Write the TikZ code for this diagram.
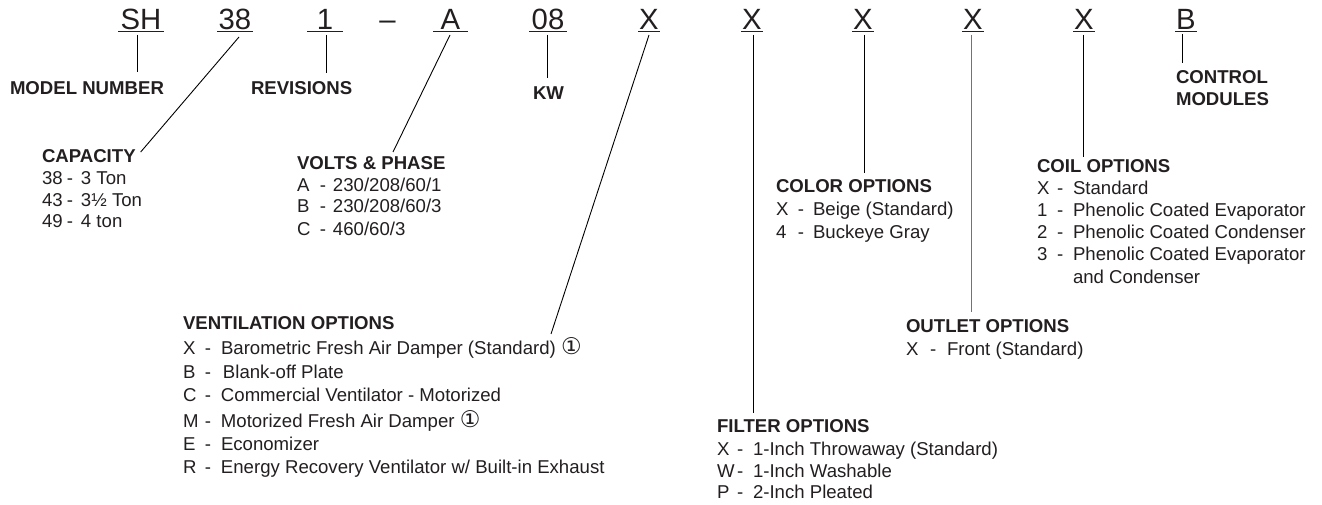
\documentclass[tikz,border=0pt]{standalone}
\usepackage{fontspec}
\setmainfont{Liberation Sans}
\newfontfamily\symfont{DejaVu Sans}
\usetikzlibrary{calc}
\definecolor{ink}{HTML}{231F20}
\newcommand{\optrow}[4]{\makebox[#1][l]{#3}\makebox[#2][l]{-}#4}
\newcommand{\circone}{{\symfont\fontsize{23}{20}\selectfont ①}}
\begin{document}
\begin{tikzpicture}[x=1pt,y=-1pt,
  every node/.style={inner sep=0pt, outer sep=0pt, text=ink},
  code/.style={anchor=base, font=\fontsize{29.3}{32}\selectfont},
  hd/.style={anchor=base west, font=\fontsize{18.6}{21.7}\selectfont\bfseries},
  itm/.style={anchor=base west, font=\fontsize{18.6}{21.7}\selectfont},
  lead/.style={draw=black, line width=0.9pt},
  leadgray/.style={draw=black!55, line width=1pt},
  uline/.style={draw=ink, line width=1pt}]
\useasboundingbox (0,0) rectangle (1322,505);
\fill[white] (0,0) rectangle (1322,505);

% ---- model code ----
\node[code] (cSH) at (141,30) {SH};
\node[code] (c38) at (235,30) {38};
\node[code] (c1) at (325,30) {1};
\node[code] (cdash) at (387.5,30) {–};
\node[code] (cA) at (450.5,30) {A};
\node[code] (c08) at (548,30) {08};
\node[code] (cX1) at (649,30) {X};
\node[code] (cX2) at (752,30) {X};
\node[code] (cX3) at (863,30) {X};
\node[code] (cX4) at (973,30) {X};
\node[code] (cX5) at (1084,30) {X};
\node[code] (cB) at (1186,30) {B};

\foreach \n/\w in {cSH/23, c38/18, c1/18, cA/17.5, c08/19, cX1/11, cX2/11, cX3/11, cX4/11, cX5/11, cB/11}
  \draw[uline] ($(\n.base)+(-\w,2)$) -- ($(\n.base)+(\w,2)$);

% ---- simple labels ----
\node[hd] (lmodel) at (10,95) {MODEL NUMBER};
\node[hd] (lrev) at (251,95) {REVISIONS};
\node[hd] (lkw) at (533,100) {KW};
\node[hd] (lctrl) at (1176,84) {CONTROL};
\node[hd] (lctrl2) at (1176,106) {MODULES};

% ---- capacity ----
\node[hd] (hcap) at (42,163) {CAPACITY};
\node[itm] (cap1) at (42,185) {\optrow{25pt}{14pt}{38}{3 Ton}};
\node[itm] (cap2) at (42,207) {\optrow{25pt}{14pt}{43}{3½ Ton}};
\node[itm] (cap3) at (42,228) {\optrow{25pt}{14pt}{49}{4 ton}};

% ---- volts & phase ----
\node[hd] (hvolt) at (297,170) {VOLTS \& PHASE};
\node[itm] (volt1) at (297,192) {\optrow{23pt}{13pt}{A}{230/208/60/1}};
\node[itm] (volt2) at (297,213) {\optrow{23pt}{13pt}{B}{230/208/60/3}};
\node[itm] (volt3) at (297,235) {\optrow{23pt}{13pt}{C}{460/60/3}};

% ---- color ----
\node[hd] (hcol) at (776,193) {COLOR OPTIONS};
\node[itm] (col1) at (776,215) {\optrow{22pt}{15pt}{X}{Beige (Standard)}};
\node[itm] (col2) at (776,238) {\optrow{22pt}{15pt}{4}{Buckeye Gray}};

% ---- coil ----
\node[hd] (hcoil) at (1037,173) {COIL OPTIONS};
\node[itm] (coil1) at (1037,195) {\optrow{20pt}{16pt}{X}{Standard}};
\node[itm] (coil2) at (1037,217) {\optrow{20pt}{16pt}{1}{Phenolic Coated Evaporator}};
\node[itm] (coil3) at (1037,238) {\optrow{20pt}{16pt}{2}{Phenolic Coated Condenser}};
\node[itm] (coil4) at (1037,260) {\optrow{20pt}{16pt}{3}{Phenolic Coated Evaporator}};
\node[itm] (coil5) at (1073,283) {and Condenser};

% ---- ventilation ----
\node[hd] (hvent) at (183,329) {VENTILATION OPTIONS};
\node[itm] (vent1) at (183,354) {\optrow{22pt}{16pt}{X}{Barometric Fresh Air Damper (Standard) \circone}};
\node[itm] (vent2) at (183,378) {\optrow{22pt}{16pt}{B}{\hspace{2pt}Blank-off Plate}};
\node[itm] (vent3) at (183,401) {\optrow{22pt}{16pt}{C}{Commercial Ventilator - Motorized}};
\node[itm] (vent4) at (183,427) {\optrow{22pt}{16pt}{M}{Motorized Fresh Air Damper \circone}};
\node[itm] (vent5) at (183,450) {\optrow{22pt}{16pt}{E}{Economizer}};
\node[itm] (vent6) at (183,473) {\optrow{22pt}{16pt}{R}{Energy Recovery Ventilator w/ Built-in Exhaust}};

% ---- outlet ----
\node[hd] (hout) at (906,332) {OUTLET OPTIONS};
\node[itm] (out1) at (906,355) {\optrow{24pt}{17pt}{X}{Front (Standard)}};

% ---- filter ----
\node[hd] (hfilt) at (717,432) {FILTER OPTIONS};
\node[itm] (filt1) at (717,455) {\optrow{20pt}{16pt}{X}{1-Inch Throwaway (Standard)}};
\node[itm] (filt2) at (717,477) {\optrow{20pt}{16pt}{W}{1-Inch Washable}};
\node[itm] (filt3) at (717,498) {\optrow{20pt}{16pt}{P}{2-Inch Pleated}};

% ---- leaders ----
\draw[lead] ($(cSH.base)+(-4,5)$) -- ($(lmodel.base west)+(127,-23)$);
\draw[lead] ($(c38.base)+(4,7)$) -- ($(hcap.base east)+(5,-11)$);
\draw[lead] ($(c1.base)+(1,5)$) -- ($(lrev.base west)+(75,-22)$);
\draw[lead] ($(cA.base)+(-0.5,5)$) -- ($(hvolt.base west)+(96,-18)$);
\draw[lead] ($(c08.base)+(-1,5)$) -- ($(lkw.base west)+(14,-22)$);
\draw[lead] ($(cX1.base)+(0,5)$) -- ($(vent1.base west)+(368,-20)$);
\draw[lead] ($(cX2.base)+(1,5)$) -- ($(hfilt.base west)+(36,-19)$);
\draw[lead] ($(cX3.base)+(1,5)$) -- ($(hcol.base west)+(88,-20)$);
\draw[leadgray] ($(cX4.base)+(-2,5)$) -- ($(hout.base west)+(65,-20)$);
\draw[lead] ($(cX5.base)+(-1,5)$) -- ($(hcoil.base west)+(46,-16)$);
\draw[lead] ($(cB.base)+(-4,4)$) -- ($(lctrl.base west)+(6,-21)$);
\end{tikzpicture}
\end{document}
